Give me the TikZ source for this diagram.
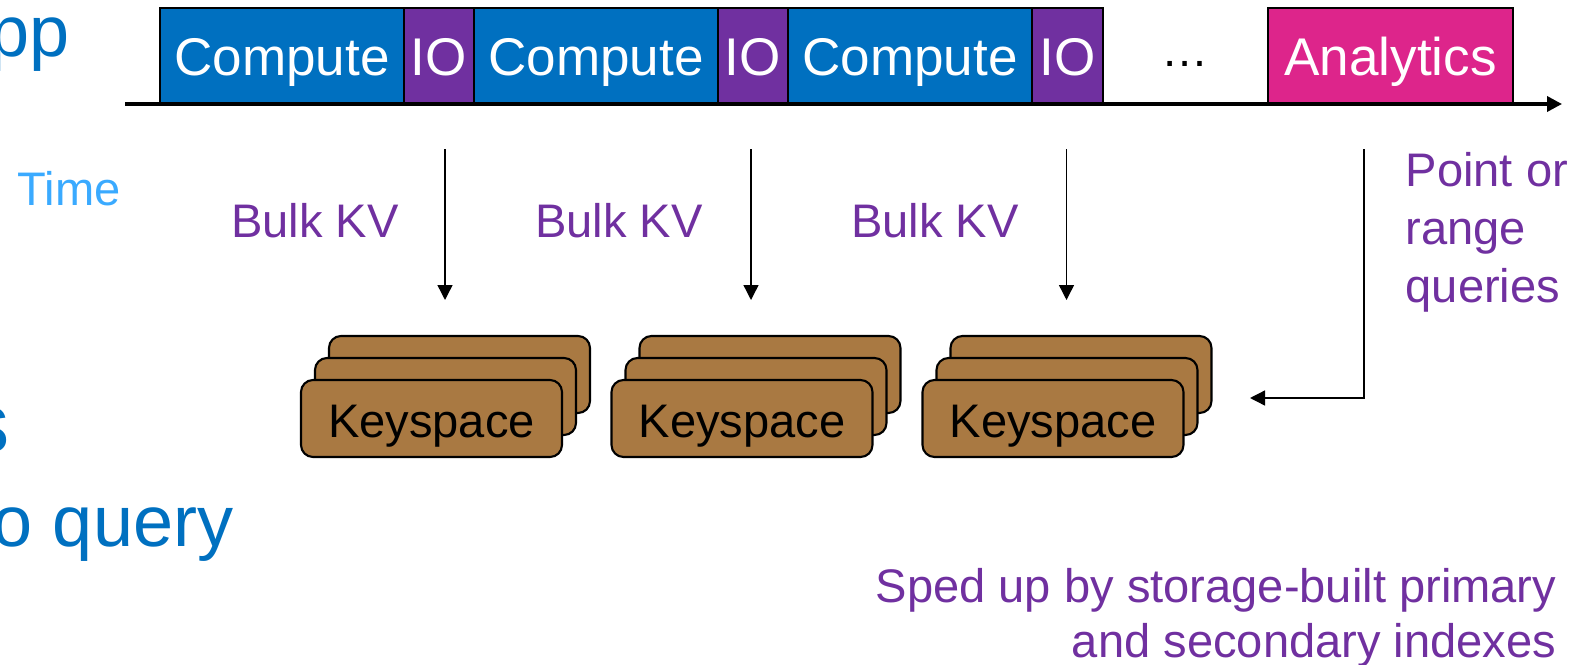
\documentclass[tikz,border=0pt]{standalone}
\usepackage{fontspec}
\setmainfont{Liberation Sans}
\usepackage{tikz}
\usetikzlibrary{arrows.meta,positioning}

\definecolor{cpublue}{RGB}{0,112,192}
\definecolor{iopurple}{RGB}{112,48,160}
\definecolor{anapink}{RGB}{221,37,139}
\definecolor{ksbrown}{RGB}{169,121,66}
\definecolor{timeblue}{RGB}{58,170,255}

\tikzset{
	task/.style={draw=black,line width=0.6pt,minimum height=0.96cm,inner sep=0pt,outer sep=0pt,
		text height=0.4cm,text depth=0pt,text=white,font=\fontsize{15.1}{18}\selectfont},
	keyspace/.style={draw=black,line width=0.6pt,fill=ksbrown,rounded corners=1.2mm,
		minimum width=2.61cm,minimum height=0.77cm,inner sep=0pt,
		text height=0.37cm,text depth=0pt,font=\fontsize{13.4}{16}\selectfont},
	lbl/.style={text=iopurple,inner sep=0pt,font=\fontsize{13.4}{16}\selectfont},
	big/.style={text=cpublue,inner sep=0pt,font=\fontsize{20.5}{24}\selectfont},
	flow/.style={-{Triangle[length=1.5mm,width=1.5mm]},line width=0.4pt},
}

\begin{document}
\begin{tikzpicture}
		\useasboundingbox (0,0) rectangle (15.85,-6.64);

		% left side of the slide
		\node[big,anchor=base east] (app) at (0.70,-0.56) {pp};
		\node[big,anchor=base east,font=\fontsize{24}{28}\selectfont] (tail) at (0.10,-4.52) {s};
		\node[big,anchor=base east] (query) at (2.34,-5.46) {o query};
		\node[inner sep=0pt,anchor=base west,text=timeblue,font=\fontsize{13.4}{16}\selectfont] (time) at (0.17,-2.05) {Time};

		% timeline
		\node[task,fill=cpublue,minimum width=2.44cm] (c1) at (2.82,-0.56) {Compute};
		\node[task,fill=iopurple,minimum width=0.70cm,right=0pt of c1] (io1) {IO};
		\node[task,fill=cpublue,minimum width=2.44cm,right=0pt of io1] (c2) {Compute};
		\node[task,fill=iopurple,minimum width=0.70cm,right=0pt of c2] (io2) {IO};
		\node[task,fill=cpublue,minimum width=2.44cm,right=0pt of io2] (c3) {Compute};
		\node[task,fill=iopurple,minimum width=0.71cm,right=0pt of c3] (io3) {IO};
		\node[inner sep=0pt,anchor=base,font=\fontsize{13.4}{16}\selectfont] (dots) at (11.85,-0.66) {…};
		\node[task,fill=anapink,minimum width=2.45cm] (ana) at (13.905,-0.56) {Analytics};

		\coordinate (t0) at (1.25,-1.04);
		\coordinate (t1) at (15.62,-1.04);
		\draw[line width=1pt,-{Triangle[length=1.5mm,width=1.5mm]}] (t0) -- (t1);

		% keyspaces, three deep
		\foreach \x [count=\i] in {4.315,7.42,10.53} {
			\node[keyspace] (ks\i-back) at (\x+0.28,-3.745) {};
			\node[keyspace] (ks\i-mid) at (\x+0.14,-3.965) {};
			\node[keyspace] (ks\i) at (\x,-4.185) {Keyspace};
		}

		% bulk loads
		\coordinate (out1) at (4.45,-1.49);   \coordinate (in1) at (4.45,-3.00);
		\coordinate (out2) at (7.51,-1.49);   \coordinate (in2) at (7.51,-3.00);
		\coordinate (out3) at (10.665,-1.49); \coordinate (in3) at (10.665,-3.00);
		\path[flow] (out1) edge (in1)
		            (out2) edge (in2)
		            (out3) edge (in3);
		\node[lbl,anchor=base] (kv1) at (3.15,-2.37) {Bulk KV};
		\node[lbl,anchor=base] (kv2) at (6.19,-2.37) {Bulk KV};
		\node[lbl,anchor=base] (kv3) at (9.35,-2.37) {Bulk KV};

		% queries
		\coordinate (q0) at (13.64,-1.49);
		\coordinate (q1) at (13.64,-3.98);
		\coordinate (q2) at (12.50,-3.98);
		\draw[flow] (q0) -- (q1) -- (q2);
		\node[lbl,anchor=north west,align=left,font=\fontsize{13.4}{16.5}\selectfont] (pq) at (14.05,-1.515)
			{Point or\\range\\queries};

		\node[lbl,anchor=north east,align=right,font=\fontsize{13.4}{15.6}\selectfont] (idx) at (15.57,-5.68)
			{Sped up by storage-built primary\\and secondary indexes};
	\end{tikzpicture}
\end{document}
